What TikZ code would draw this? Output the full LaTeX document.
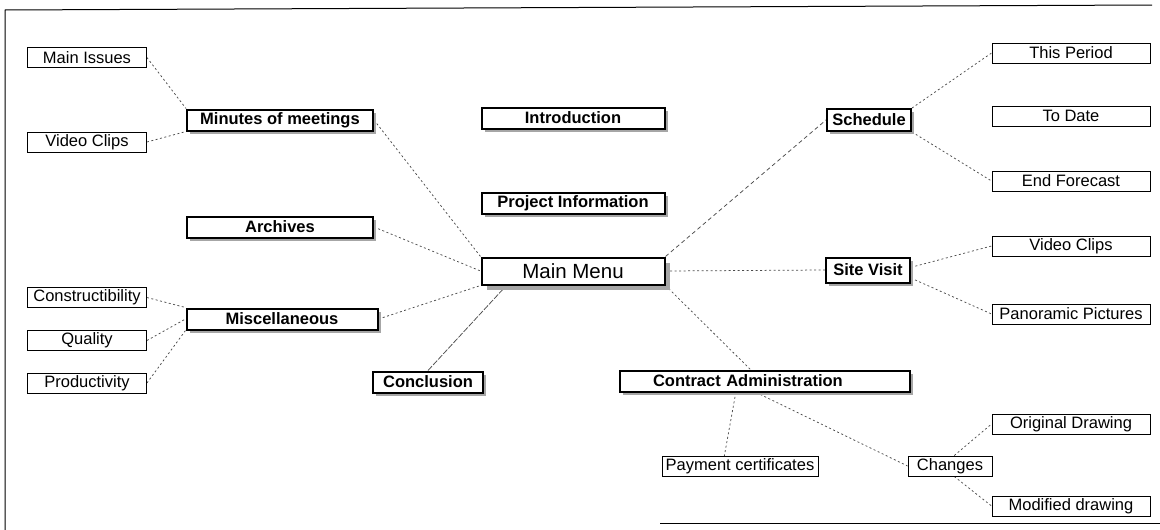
\documentclass[tikz,border=0pt]{standalone}
\usepackage{fontspec}
\setmainfont{Liberation Sans}
\usetikzlibrary{calc,shadows,backgrounds}

\begin{document}
\begin{tikzpicture}[x=1pt,y=-1pt,
  leaf/.style={draw, line width=0.9pt, fill=white, inner sep=0pt,
    font=\fontsize{16.5}{17}\selectfont, minimum height=20pt},
  topicbase/.style={draw, line width=2pt, fill=white, inner sep=0pt,
    font=\fontsize{16.5}{17}\selectfont\bfseries, minimum height=21pt},
  topic/.style={topicbase,
    drop shadow={shadow xshift=3pt, shadow yshift=-3pt, fill=black!35, opacity=1}},
  link/.style={draw=black!70, line width=0.75pt, dash pattern=on 2pt off 2.5pt}]

\useasboundingbox (0,0) rectangle (1160,530);

% page frame
\draw[line width=1pt] (5,530) -- (5,10) -- (1152,5);
\draw[line width=1pt] (660,523) -- (1160,523);

% central menu
\node[topicbase, minimum width=183pt, minimum height=27pt,
  font=\fontsize{20.5}{22}\selectfont,
  drop shadow={shadow xshift=5pt, shadow yshift=-5pt, fill=black!35, opacity=1}]
  (main) at (573,271) {Main Menu};
\node[topic, minimum width=183pt] (intro) at (573,118) {Introduction};
\node[topic, minimum width=183pt] (proj) at (573,203) {Project Information};

% left branch
\node[topic, minimum width=186pt] (mom) at (280,120) {Minutes of meetings};
\node[leaf, minimum width=119pt] (mi) at (87,57.5) {Main Issues};
\node[leaf, minimum width=119pt] (vcl) at (87,142) {Video Clips};
\node[topic, minimum width=186pt] (arch) at (280,227) {Archives};
\node[topic, minimum width=191pt] (misc) at (282,319) {Miscellaneous};
\node[leaf, minimum width=119pt] (cons) at (87,297.5) {Constructibility};
\node[leaf, minimum width=119pt] (qual) at (87,340.5) {Quality};
\node[leaf, minimum width=119pt] (prod) at (87,383) {Productivity};
\node[topic, minimum width=110pt] (concl) at (428,382) {Conclusion};

% right branch
\node[topic, minimum width=84pt, minimum height=22pt] (sched) at (869,120) {Schedule};
\node[leaf, minimum width=158pt] (tp) at (1071,53) {This Period};
\node[leaf, minimum width=158pt] (td) at (1071,116) {To Date};
\node[leaf, minimum width=158pt] (ef) at (1071,181) {End Forecast};
\node[topic, minimum width=84pt, minimum height=25pt] (sv) at (868,270) {Site Visit};
\node[leaf, minimum width=158pt] (vcr) at (1071,246) {Video Clips};
\node[leaf, minimum width=158pt] (pan) at (1071,314) {Panoramic Pictures};

% contract branch
\node[topic, minimum width=290pt, text width=224pt, inner xsep=33pt, align=left]
  (ca) at (765,381) {Contract Administration};
\node[leaf, minimum width=156pt] (pay) at (740,466.5) {Payment certificates};
\node[leaf, minimum width=84pt] (chg) at (950,466) {Changes};
\node[leaf, minimum width=158pt] (orig) at (1071,424) {Original Drawing};
\node[leaf, minimum width=158pt] (mod) at (1071,506) {Modified drawing};

% connectors
\begin{scope}[on background layer]
\draw[link] (mi.east) -- (mom.north west);
\draw[link] (vcl.east) -- (mom.south west);
\draw[link] (mom.east) -- (main.north west);
\draw[link] (arch.east) -- (main.west);
\draw[link] (misc.east) -- (main.south west);
\draw[link, dash pattern=on 6pt off 1.5pt] (concl.north) -- ($(main.south west)!0.14!(main.south east)$);
\draw[link] (cons.east) -- (misc.north west);
\draw[link] (qual.east) -- (misc.west);
\draw[link] (prod.east) -- (misc.south west);
\draw[link, dash pattern=on 4pt off 3pt] (main.north east) -- (sched.west);
\draw[link] (main.east) -- (sv.west);
\draw[link] (main.south east) -- ($(ca.north west)!0.45!(ca.north east)$);
\draw[link] (sched.north east) -- (tp.west);
\draw[link] (sched.south east) -- (ef.west);
\draw[link] ($(sv.north east)!0.4!(sv.south east)$) -- (vcr.west);
\draw[link] ($(sv.north east)!0.8!(sv.south east)$) -- (pan.west);
\draw[link] ($(ca.south west)!0.40!(ca.south east)$) -- ($(pay.north west)!0.4!(pay.north east)$);
\draw[link] ($(ca.south west)!0.47!(ca.south east)$) -- (chg.west);
\draw[link] ($(chg.north west)!0.55!(chg.north east)$) -- (orig.west);
\draw[link] ($(chg.south west)!0.55!(chg.south east)$) -- (mod.west);
\end{scope}
\end{tikzpicture}
\end{document}
